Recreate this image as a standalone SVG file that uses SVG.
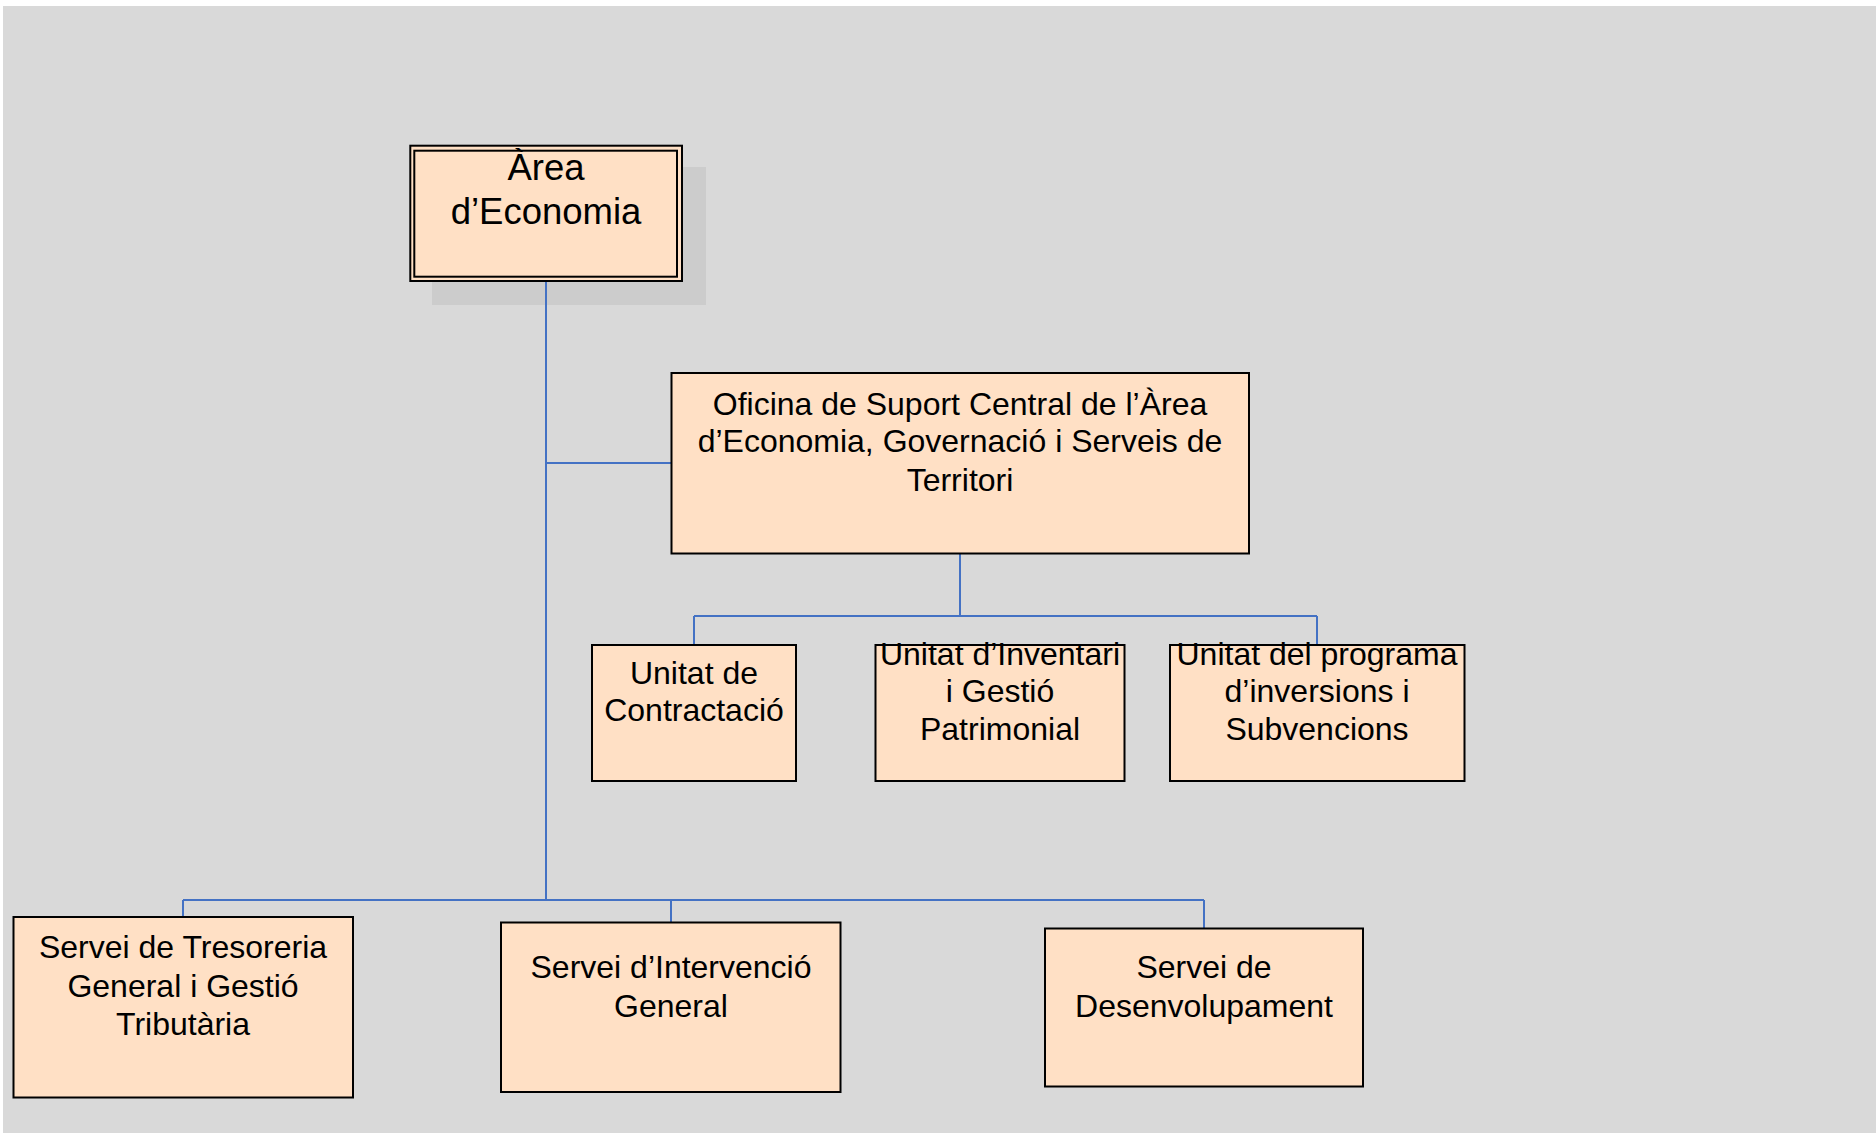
<svg xmlns="http://www.w3.org/2000/svg" width="1876" height="1133" viewBox="0 0 1876 1133">
<style>
.box{fill:#FFE0C5;stroke:#000;stroke-width:2}
.lbl{font-family:"Liberation Sans",Arial,sans-serif;font-size:32px;fill:#000;text-anchor:middle}
.big{font-size:36.5px}
.conn{fill:none;stroke:#4472C4;stroke-width:2}
</style>
<rect x="0" y="0" width="1876" height="1133" fill="#ffffff"/>
<rect x="3" y="6" width="1873" height="1127" fill="#D9D9D9"/>
<g id="area-economia">
<rect x="432" y="167" width="274" height="138" fill="#CCCCCC"/>
<rect class="box" x="410.3" y="145.7" width="271.7" height="135.3"/>
<rect x="414.3" y="150.7" width="262.7" height="126" fill="none" stroke="#000" stroke-width="2"/>
<text class="lbl big" x="546" y="180">Àrea</text>
<text class="lbl big" x="546" y="223.5">d’Economia</text>
</g>
<g id="connectors">
<path class="conn" d="M546 282V900M546 463H671M960 554V616M694 616H1317M694 616V645M1317 616V645M183 900H1204M183 900V917M671 900V922M1204 900V928"/>
</g>
<g id="oficina">
<rect class="box" x="671.5" y="373" width="577.5" height="180.5"/>
<text class="lbl" x="960" y="415">Oficina de Suport Central de l’Àrea</text>
<text class="lbl" x="960" y="452">d’Economia, Governació i Serveis de</text>
<text class="lbl" x="960" y="491">Territori</text>
</g>
<g id="contractacio">
<rect class="box" x="592" y="645" width="204" height="136"/>
<text class="lbl" x="694" y="684">Unitat de</text>
<text class="lbl" x="694" y="721">Contractació</text>
</g>
<g id="inventari">
<rect class="box" x="875.5" y="645" width="249" height="136"/>
<text class="lbl" x="1000" y="665">Unitat d’Inventari</text>
<text class="lbl" x="1000" y="702">i Gestió</text>
<text class="lbl" x="1000" y="740">Patrimonial</text>
</g>
<g id="programa">
<rect class="box" x="1170" y="645" width="294.5" height="136"/>
<text class="lbl" x="1317" y="665">Unitat del programa</text>
<text class="lbl" x="1317" y="702">d’inversions i</text>
<text class="lbl" x="1317" y="740">Subvencions</text>
</g>
<g id="tresoreria">
<rect class="box" x="13.5" y="917" width="339.5" height="180.5"/>
<text class="lbl" x="183" y="958">Servei de Tresoreria</text>
<text class="lbl" x="183" y="997">General i Gestió</text>
<text class="lbl" x="183" y="1035">Tributària</text>
</g>
<g id="intervencio">
<rect class="box" x="501" y="922.5" width="339.5" height="169.5"/>
<text class="lbl" x="671" y="978">Servei d’Intervenció</text>
<text class="lbl" x="671" y="1017">General</text>
</g>
<g id="desenvolupament">
<rect class="box" x="1045" y="928.5" width="318" height="158"/>
<text class="lbl" x="1204" y="978">Servei de</text>
<text class="lbl" x="1204" y="1017">Desenvolupament</text>
</g>
</svg>
